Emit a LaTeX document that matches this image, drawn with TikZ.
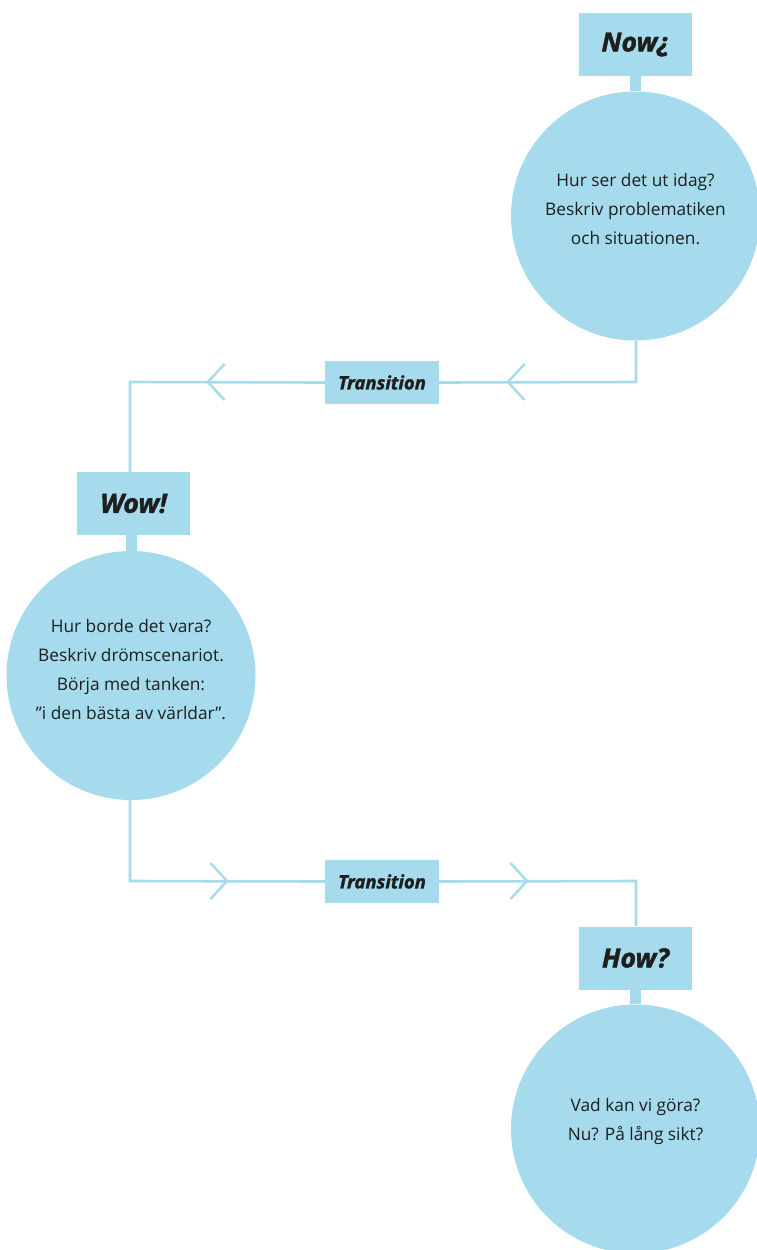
\documentclass[tikz,border=0pt]{standalone}
\usepackage{fontspec}
\setmainfont{Open Sans}
\newfontfamily\heavy{Open Sans}[FakeBold=1.6]
\usetikzlibrary{calc}
\definecolor{sky}{HTML}{A5DBEC}
\definecolor{ink}{HTML}{1E1E1E}
\begin{document}
\begin{tikzpicture}[x=1pt,y=-1pt,
  titlebox/.style={fill=sky, minimum width=113pt, minimum height=63pt, inner sep=0pt,
    font=\heavy\fontsize{26.5}{30}\selectfont\bfseries\itshape, text=ink},
  transbox/.style={fill=sky, minimum width=114pt, minimum height=43pt, inner sep=0pt,
    font=\heavy\fontsize{18.5}{20}\selectfont\bfseries\itshape, text=ink},
  bubble/.style={circle, fill=sky, minimum size=249pt, inner sep=0pt},
  bubbletext/.style={align=center, inner sep=0pt,
    font=\fontsize{17.3}{29}\selectfont, text=ink},
  stem/.style={draw=sky, line width=11pt},
  link/.style={draw=sky, line width=2.6pt},
  chev/.style={draw=sky, line width=2.4pt}]
\useasboundingbox (0,0) rectangle (756,1250);

% stage 1
\node[titlebox] (now) at (635.5,44.5) {Now¿};
\node[bubble] (c1) at (635.5,216) {};
\node[bubbletext] (c1t) at ([yshift=7pt]c1.center) {Hur ser det ut idag?\\Beskriv problematiken\\och situationen.};
\draw[stem] (now.south) -- (c1.north);

% stage 2
\node[titlebox] (wow) at (133.5,503.5) {Wow!};
\node[bubble] (c2) at (131,675.5) {};
\node[bubbletext] (c2t) at ([yshift=6pt]c2.center) {Hur borde det vara?\\Beskriv drömscenariot.\\Börja med tanken:\\”i den bästa av världar”.};
\draw[stem] (wow.south -| c2.north) -- (c2.north);

% stage 3
\node[titlebox] (how) at (635.5,958) {How?};
\node[bubble] (c3) at (635.5,1129) {};
\node[bubbletext] (c3t) at ([yshift=8pt]c3.center) {Vad kan vi göra?\\Nu? På lång sikt?};
\draw[stem] (how.south) -- (c3.north);

% transitions
\node[transbox] (t1) at (382,382.5) {Transition};
\node[transbox] (t2) at (382,881.5) {Transition};

\coordinate (k1) at (636,382);
\coordinate (k2) at (130,382);
\coordinate (k3) at (130,881);
\coordinate (k4) at (636,881);

\draw[link] (c1.south -| k1) -- (k1) -- (t1.east);
\draw[link] (t1.west) -- (k2) -- (k2 |- wow.north);
\draw[link] (c2.south -| k3) -- (k3) -- (t2.west);
\draw[link] (t2.east) -- (k4) -- (k4 |- how.north);

% direction chevrons
\coordinate (a1) at (508,382);
\coordinate (a2) at (208,382);
\coordinate (a3) at (227,881);
\coordinate (a4) at (527,881);
\draw[chev] ($(a1)+(16.5,-18)$) -- (a1) -- ($(a1)+(16.5,18)$);
\draw[chev] ($(a2)+(16.5,-18)$) -- (a2) -- ($(a2)+(16.5,18)$);
\draw[chev] ($(a3)+(-16.5,-18)$) -- (a3) -- ($(a3)+(-16.5,18)$);
\draw[chev] ($(a4)+(-16.5,-18)$) -- (a4) -- ($(a4)+(-16.5,18)$);
\end{tikzpicture}
\end{document}
